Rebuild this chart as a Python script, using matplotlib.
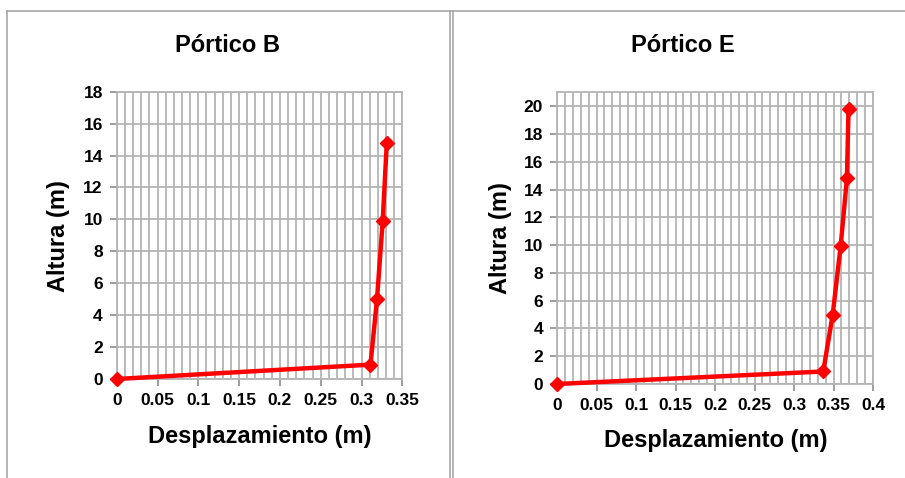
import matplotlib
matplotlib.use("Agg")
import matplotlib.pyplot as plt
from matplotlib.ticker import MultipleLocator
from matplotlib.lines import Line2D

plt.rcParams['font.family'] = ['Liberation Sans', 'DejaVu Sans']
plt.rcParams['font.weight'] = 'bold'

# Data
b_desp = [0.0, 0.311, 0.319, 0.326, 0.331]
b_alt = [0.0, 0.9, 5.0, 9.9, 14.8]
e_desp = [0.0, 0.337, 0.349, 0.359, 0.367, 0.369]
e_alt = [0.0, 0.9, 5.0, 9.9, 14.8, 19.8]

titles = ["Pórtico B", "Pórtico E"]
xlabel = "Desplazamiento (m)"
ylabel = "Altura (m)"
b_xticks = [0, 0.05, 0.1, 0.15, 0.2, 0.25, 0.3, 0.35]
e_xticks = [0, 0.05, 0.1, 0.15, 0.2, 0.25, 0.3, 0.35, 0.4]
b_yticks = [0, 2, 4, 6, 8, 10, 12, 14, 16, 18]
e_yticks = [0, 2, 4, 6, 8, 10, 12, 14, 16, 18, 20]

W, H = 905, 478
fig = plt.figure(figsize=(W/100, H/100), dpi=100)
fig.patch.set_facecolor('white')

def fx(px): return px / W
def fy(py): return 1 - py / H

grid_c = '#b4b4b4'
frame_c = '#a0a0a0'
TICK_FS = 12.5

def fmt(v):
    return ('%.2f' % v).rstrip('0').rstrip('.')

def setup(ax, xmax, ymax, xdata, ydata, xt, yt):
    ax.plot(xdata, ydata, color='#ff0000', lw=3.2, marker='D', markersize=7,
            markeredgecolor='#ff0000', markerfacecolor='#ff0000', zorder=5, clip_on=False)
    ax.set_xlim(0, xmax)
    ax.set_ylim(0, ymax)
    ax.xaxis.set_minor_locator(MultipleLocator(0.01))
    ax.grid(True, which='both', axis='x', color=grid_c, lw=1.3)
    ax.grid(True, which='major', axis='y', color=grid_c, lw=1.3)
    ax.set_axisbelow(True)
    for s in ax.spines.values():
        s.set_color(grid_c)
        s.set_linewidth(1.3)
    ax.tick_params(axis='both', which='major', length=5, width=1.2, color='#8c8c8c',
                   pad=5, labelsize=TICK_FS)
    ax.tick_params(axis='both', which='minor', length=0)
    ax.set_xticks(xt, [fmt(v) for v in xt])
    ax.set_yticks(yt, [str(v) for v in yt])
    for lab in ax.get_xticklabels() + ax.get_yticklabels():
        lab.set_fontweight('bold')
        lab.set_fontsize(TICK_FS)

ax1 = fig.add_axes([fx(116.7), fy(379), fx(402.3) - fx(116.7), fy(91.7) - fy(379)])
setup(ax1, 0.35, 18, b_desp, b_alt, b_xticks, b_yticks)
ax2 = fig.add_axes([fx(557), fy(384), fx(873) - fx(557), fy(92.3) - fy(384)])
setup(ax2, 0.4, 21, e_desp, e_alt, e_xticks, e_yticks)

# Titles and labels
fig.text(fx(227.5), fy(45), titles[0], ha='center', va='center', fontsize=17, fontweight='bold')
fig.text(fx(683.3), fy(45), titles[1], ha='center', va='center', fontsize=17, fontweight='bold')
fig.text(fx(259.5), fy(437), xlabel, ha='center', va='center', fontsize=17, fontweight='bold')
fig.text(fx(715.5), fy(440), xlabel, ha='center', va='center', fontsize=17, fontweight='bold')
fig.text(fx(58), fy(236), ylabel, ha='center', va='center', rotation=90, fontsize=17, fontweight='bold')
fig.text(fx(500), fy(238), ylabel, ha='center', va='center', rotation=90, fontsize=17, fontweight='bold')

# Panel frames
lines = [
    ([fx(7), fx(7)], [fy(11), 0]),
    ([fx(7), fx(905)], [fy(11), fy(11)]),
    ([fx(450), fx(450)], [fy(11), 0]),
    ([fx(452.5), fx(452.5)], [fy(11), 0]),
]
for xs, ys in lines:
    fig.add_artist(Line2D(xs, ys, transform=fig.transFigure, color=frame_c, lw=1.1))

fig.savefig('out.png', dpi=100)
